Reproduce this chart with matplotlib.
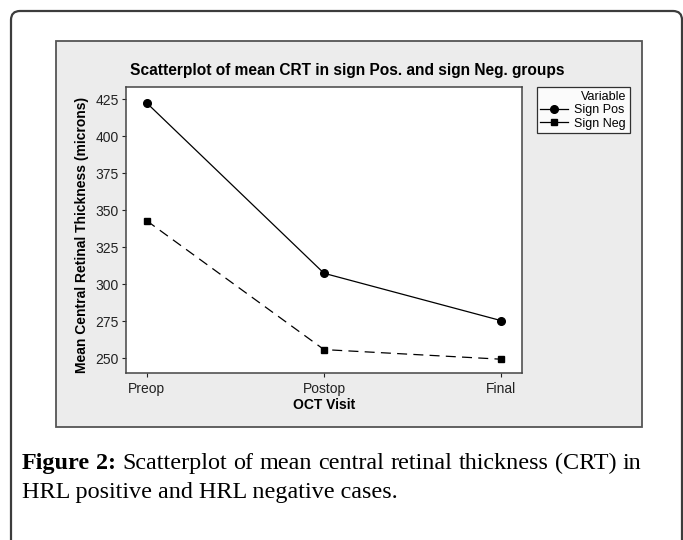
import matplotlib
matplotlib.use("Agg")
import matplotlib.pyplot as plt
from matplotlib.patches import FancyBboxPatch, Rectangle

visits = ["Preop", "Postop", "Final"]
sign_pos = [422.5, 307.5, 275.5]
sign_neg = [343, 256, 249.5]
y_ticks = [250, 275, 300, 325, 350, 375, 400, 425]

title = "Scatterplot of mean CRT in sign Pos. and sign Neg. groups"
xlabel = "OCT Visit"
ylabel = "Mean Central Retinal Thickness (microns)"
caption1 = ["Figure", "2:", "Scatterplot", "of", "mean", "central", "retinal",
            "thickness", "(CRT)", "in"]
caption2 = "HRL positive and HRL negative cases."

W, H = 683, 540
plt.rcParams['font.family'] = ['Liberation Sans', 'DejaVu Sans']

fig = plt.figure(figsize=(W / 100, H / 100), dpi=100)
fig.patch.set_facecolor("white")


def px(x, y):
    # pixel coords (top-left origin) -> inches for dpi_scale_trans
    return x / 100, (H - y) / 100


# outer rounded frame (bottom runs off the page)
x0, y0 = px(11, 11)
frame = FancyBboxPatch((x0, -0.3), (682 - 11) / 100, y0 + 0.3,
                       boxstyle="round,pad=0,rounding_size=0.09",
                       transform=fig.dpi_scale_trans, fc="white",
                       ec="#3c3c3c", lw=1.6, zorder=0)
fig.patches.append(frame)

# gray chart panel
gx, gy = px(55.7, 426.7)
panel = Rectangle((gx, gy), (641.7 - 55.7) / 100, (426.7 - 41) / 100,
                  transform=fig.dpi_scale_trans, fc="#ececec", ec="#555555",
                  lw=1.3, zorder=1)
fig.patches.append(panel)

# plot area
left, right, top, bottom = 125.7, 522.3, 87.3, 373.3
ax = fig.add_axes([left / W, (H - bottom) / H, (right - left) / W, (bottom - top) / H])
ax.set_zorder(2)
ax.set_facecolor("white")

ax.plot(range(len(visits)), sign_pos, color="black", lw=0.9, marker="o",
        ms=5.5, label="Sign Pos")
ax.plot(range(len(visits)), sign_neg, color="black", lw=0.9, ls=(0, (8, 5)),
        marker="s", ms=5, label="Sign Neg")

ax.set_xlim(-0.118, 2.118)
ax.set_ylim(240, 433)
ax.set_xticks(range(len(visits)))
ax.set_xticklabels(visits)
ax.set_yticks(y_ticks)
ax.tick_params(direction="out", length=3, width=0.8, labelsize=10,
               colors="#222222")
ax.tick_params(axis="x", pad=3.5)
ax.tick_params(axis="y", pad=2)
for s in ax.spines.values():
    s.set_color("#444444")
    s.set_linewidth(1.1)

fig.text(347.5 / W, 1 - 70 / H, title, ha="center", va="center",
         fontsize=11.2, fontweight="bold")
fig.text(324 / W, 1 - 405 / H, xlabel, ha="center", va="center",
         fontsize=10, fontweight="bold")
fig.text(81.7 / W, 1 - 235 / H, ylabel, ha="center", va="center",
         rotation=90, fontsize=10, fontweight="bold")

leg = ax.legend(title="Variable", loc="upper left",
                bbox_to_anchor=(536.7 / W, 1 - 87.3 / H),
                bbox_transform=fig.transFigure, fontsize=9, title_fontsize=9,
                frameon=True, fancybox=False, edgecolor="black",
                handlelength=2.2, handletextpad=0.5, borderpad=0.3,
                labelspacing=0.1, borderaxespad=0)
leg.get_frame().set_linewidth(0.9)
leg._legend_box.align = "right"
for h in leg.legend_handles:
    h.set_linestyle("-")

# caption, first line justified
renderer = fig.canvas.get_renderer()
cap_kw = dict(family="Liberation Serif", fontsize=17.4, va="baseline")
words = []
for i, w in enumerate(caption1):
    t = fig.text(0, 1 - 469 / H, w, fontweight="bold" if i < 2 else "normal",
                 **cap_kw)
    words.append(t)
widths = [t.get_window_extent(renderer).width for t in words]
x_start, x_end = 22, 641
gap = (x_end - x_start - sum(widths)) / (len(words) - 1)
x = x_start
for t, w in zip(words, widths):
    t.set_x(x / W)
    x += w + gap
fig.text(22 / W, 1 - 498 / H, caption2, **cap_kw)

fig.savefig("out.png", dpi=100)
